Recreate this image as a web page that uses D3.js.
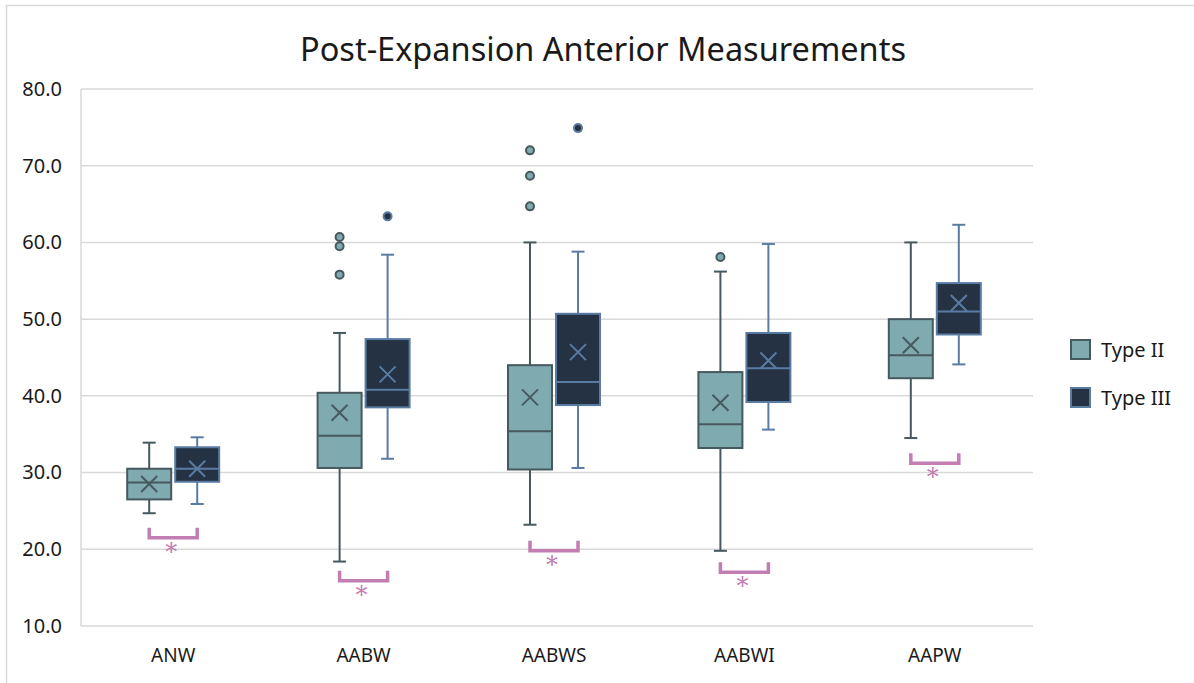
<!DOCTYPE html>
<html>
<head>
<meta charset="utf-8">
<script src="https://cdn.jsdelivr.net/npm/d3@7"></script>
<style>
  body { margin: 0; background: #fff; }
  text { font-family: "Noto Sans", "Open Sans", sans-serif; fill: #1a1a1a; }
</style>
</head>
<body>
<div id="chart"></div>
<script>
// Chart data
var categories = ["ANW", "AABW", "AABWS", "AABWI", "AAPW"];
var seriesNames = ["Type II", "Type III"];
var yTicks = [10, 20, 30, 40, 50, 60, 70, 80];

// Type II box stats
var type2Min = [24.7, 18.4, 23.2, 19.8, 34.5];
var type2Q1 = [26.5, 30.6, 30.4, 33.2, 42.3];
var type2Median = [28.7, 34.8, 35.4, 36.3, 45.3];
var type2Q3 = [30.5, 40.4, 44.0, 43.1, 50.0];
var type2Max = [33.9, 48.2, 60.0, 56.2, 60.0];
var type2Mean = [28.5, 37.8, 39.8, 39.1, 46.6];
var type2Outliers = [[], [55.8, 59.5, 60.7], [64.7, 68.7, 72.0], [58.1], []];

// Type III box stats
var type3Min = [25.9, 31.8, 30.6, 35.6, 44.1];
var type3Q1 = [28.8, 38.5, 38.8, 39.2, 48.0];
var type3Median = [30.5, 40.8, 41.8, 43.6, 51.0];
var type3Q3 = [33.3, 47.4, 50.7, 48.2, 54.7];
var type3Max = [34.6, 58.4, 58.8, 59.8, 62.3];
var type3Mean = [30.5, 42.8, 45.7, 44.6, 52.1];
var type3Outliers = [[], [63.4], [74.9], [], []];

// significance bracket level (bottom of bracket) per category
var sigLevel = [21.5, 15.9, 19.8, 17.0, 31.2];

var svgWidth = 1194;
var svgHeight = 683;

var plot = { left: 81, right: 1033, top: 89, bottom: 626 };

var fills = ["#7faab0", "#243244"];
var strokes = ["#46595f", "#5a7ca3"];
var bracketColor = "#c27db2";

var svg = d3.select("#chart")
  .append("svg")
  .attr("width", svgWidth)
  .attr("height", svgHeight);

// outer chart border (only top and left show)
svg.append("rect")
  .attr("x", 6.5)
  .attr("y", 5.5)
  .attr("width", 1300)
  .attr("height", 800)
  .attr("fill", "none")
  .attr("stroke", "#d9d9d9")
  .attr("stroke-width", 1.5);

// scales
var x = d3.scaleBand()
  .domain(categories)
  .range([plot.left - 3, plot.right - 3]);

var xSeries = d3.scaleOrdinal()
  .domain(seriesNames)
  .range([-24, 24]);

var y = d3.scaleLinear()
  .domain([10, 80])
  .range([plot.bottom, plot.top]);

// gridlines
svg.append("g")
  .selectAll("line")
  .data(yTicks)
  .enter()
  .append("line")
  .attr("x1", plot.left)
  .attr("x2", plot.right)
  .attr("y1", d => y(d))
  .attr("y2", d => y(d))
  .attr("stroke", "#d9d9d9")
  .attr("stroke-width", 1.5);

svg.append("line")
  .attr("x1", plot.left)
  .attr("x2", plot.left)
  .attr("y1", plot.top)
  .attr("y2", plot.bottom)
  .attr("stroke", "#d9d9d9")
  .attr("stroke-width", 1.5);

// y axis labels
var yAxis = d3.axisLeft(y)
  .tickValues(yTicks)
  .tickFormat(d3.format(".1f"))
  .tickSize(0)
  .tickPadding(19);

var yAxisG = svg.append("g")
  .attr("transform", `translate(${plot.left}, 0)`)
  .call(yAxis);
yAxisG.select(".domain").remove();
yAxisG.selectAll("text")
  .attr("font-size", 20)
  .style("font-family", "'Noto Sans', sans-serif")
  .attr("fill", "#1a1a1a");

// x axis labels
var xAxis = d3.axisBottom(x).tickSize(0).tickPadding(23);
var xAxisG = svg.append("g")
  .attr("transform", `translate(0, ${plot.bottom})`)
  .call(xAxis);
xAxisG.select(".domain").remove();
xAxisG.selectAll("text")
  .attr("font-size", 19)
  .style("font-family", "'Noto Sans', sans-serif")
  .attr("fill", "#1a1a1a");

// build box rows from the arrays
var boxes = [];
categories.forEach(function(cat, i) {
  boxes.push({ cat: cat, s: 0, min: type2Min[i], q1: type2Q1[i], med: type2Median[i],
    q3: type2Q3[i], max: type2Max[i], mean: type2Mean[i], out: type2Outliers[i] });
  boxes.push({ cat: cat, s: 1, min: type3Min[i], q1: type3Q1[i], med: type3Median[i],
    q3: type3Q3[i], max: type3Max[i], mean: type3Mean[i], out: type3Outliers[i] });
});

var boxW = 44;
var capW = 13;

function cx(d) {
  return x(d.cat) + x.bandwidth() / 2 + xSeries(seriesNames[d.s]);
}

var boxG = svg.append("g")
  .selectAll("g")
  .data(boxes)
  .enter()
  .append("g");

// whiskers
boxG.append("line")
  .attr("x1", cx).attr("x2", cx)
  .attr("y1", d => y(d.max)).attr("y2", d => y(d.q3))
  .attr("stroke", d => strokes[d.s]).attr("stroke-width", 2);
boxG.append("line")
  .attr("x1", cx).attr("x2", cx)
  .attr("y1", d => y(d.q1)).attr("y2", d => y(d.min))
  .attr("stroke", d => strokes[d.s]).attr("stroke-width", 2);
boxG.append("line")
  .attr("x1", d => cx(d) - capW / 2).attr("x2", d => cx(d) + capW / 2)
  .attr("y1", d => y(d.max)).attr("y2", d => y(d.max))
  .attr("stroke", d => strokes[d.s]).attr("stroke-width", 2);
boxG.append("line")
  .attr("x1", d => cx(d) - capW / 2).attr("x2", d => cx(d) + capW / 2)
  .attr("y1", d => y(d.min)).attr("y2", d => y(d.min))
  .attr("stroke", d => strokes[d.s]).attr("stroke-width", 2);

// box
boxG.append("rect")
  .attr("x", d => cx(d) - boxW / 2)
  .attr("y", d => y(d.q3))
  .attr("width", boxW)
  .attr("height", d => y(d.q1) - y(d.q3))
  .attr("fill", d => fills[d.s])
  .attr("stroke", d => strokes[d.s])
  .attr("stroke-width", 2);

// median
boxG.append("line")
  .attr("x1", d => cx(d) - boxW / 2).attr("x2", d => cx(d) + boxW / 2)
  .attr("y1", d => y(d.med)).attr("y2", d => y(d.med))
  .attr("stroke", d => strokes[d.s]).attr("stroke-width", 2);

// mean X
boxG.append("path")
  .attr("d", function(d) {
    var px = cx(d), py = y(d.mean), r = 8;
    return `M${px - r},${py - r}L${px + r},${py + r}M${px - r},${py + r}L${px + r},${py - r}`;
  })
  .attr("stroke", d => strokes[d.s])
  .attr("stroke-width", 2)
  .attr("fill", "none");

// outliers
boxG.selectAll("circle")
  .data(d => d.out.map(v => ({ v: v, d: d })))
  .enter()
  .append("circle")
  .attr("cx", o => cx(o.d))
  .attr("cy", o => y(o.v))
  .attr("r", 4)
  .attr("fill", o => fills[o.d.s])
  .attr("stroke", o => strokes[o.d.s])
  .attr("stroke-width", 2);

// significance brackets
var sigG = svg.append("g")
  .selectAll("g")
  .data(categories)
  .enter()
  .append("g");

sigG.append("path")
  .attr("d", function(cat, i) {
    var x1 = x(cat) + x.bandwidth() / 2 + xSeries(seriesNames[0]);
    var x2 = x(cat) + x.bandwidth() / 2 + xSeries(seriesNames[1]);
    var yb = y(sigLevel[i]);
    return `M${x1},${yb - 10}L${x1},${yb}L${x2},${yb}L${x2},${yb - 10}`;
  })
  .attr("fill", "none")
  .attr("stroke", bracketColor)
  .attr("stroke-width", 3.5);

sigG.append("text")
  .attr("x", cat => x(cat) + x.bandwidth() / 2 - 2)
  .attr("y", (cat, i) => y(sigLevel[i]) + 22)
  .attr("text-anchor", "middle")
  .attr("font-size", 24)
  .style("font-family", "'DejaVu Serif', serif")
  .style("fill", bracketColor)
  .text("*");

// title
svg.append("text")
  .attr("x", 603)
  .attr("y", 61)
  .attr("text-anchor", "middle")
  .attr("font-size", 32.5)
  .text("Post-Expansion Anterior Measurements");

// legend
var legend = svg.append("g")
  .selectAll("g")
  .data(seriesNames)
  .enter()
  .append("g")
  .attr("transform", (d, i) => `translate(1071, ${340 + i * 48})`);

legend.append("rect")
  .attr("width", 19)
  .attr("height", 19)
  .attr("fill", (d, i) => fills[i])
  .attr("stroke", (d, i) => strokes[i])
  .attr("stroke-width", 2);

legend.append("text")
  .attr("x", 30)
  .attr("y", 17)
  .attr("font-size", 20)
  .text(d => d);
</script>
</body>
</html>
